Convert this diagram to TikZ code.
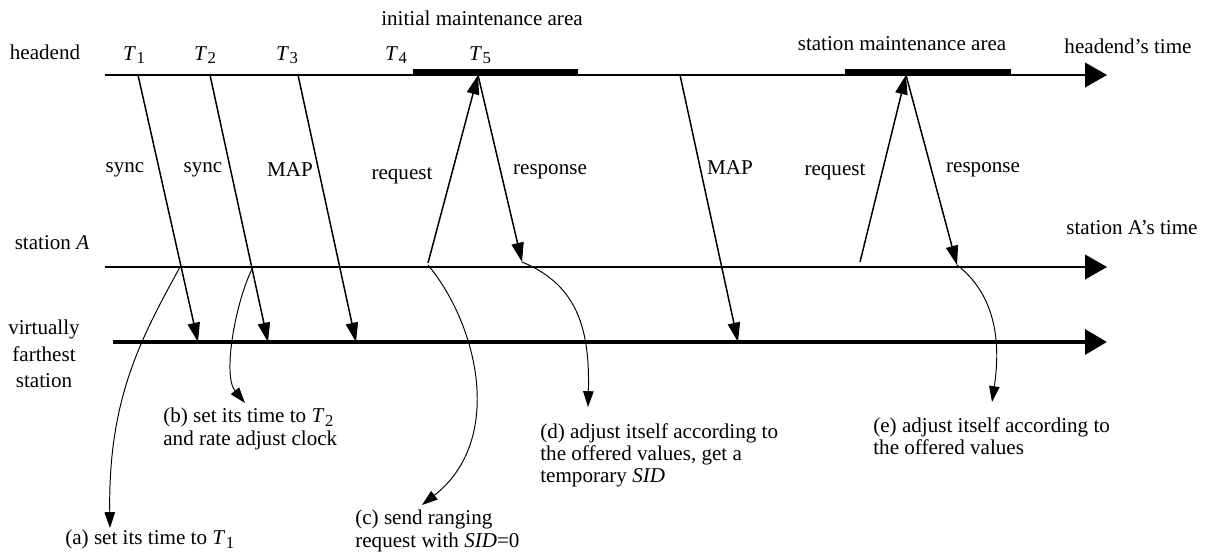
\documentclass[tikz,border=0pt]{standalone}
\usepackage{fontspec}
\setmainfont{Liberation Serif}
\usetikzlibrary{arrows.meta}
\usetikzlibrary{positioning}
\newcommand{\Ti}[1]{\textit{T}\kern0.3pt\raisebox{-0.35ex}{\fontsize{9.5}{9.5}\selectfont #1}}
\tikzset{
  lbl/.style = {inner sep=0pt, font=\fontsize{12}{12.6}\selectfont},
  note/.style = {lbl, align=left, anchor=north west},
  axis/.style = {line width=1.1pt, -{Triangle[length=12.5pt,width=14pt]}},
  vaxis/.style = {line width=2.5pt, -{Triangle[length=12.5pt,width=14pt]}},
  msg/.style = {line width=0.85pt, -{Triangle[length=11pt,width=7pt]}},
  bent/.style = {line width=0.55pt, -{Triangle[length=9pt,width=6pt]}},
  area/.style = {line width=3.4pt},
}
\begin{document}
\begin{tikzpicture}[x=0.02cm,y=-0.02cm]
\useasboundingbox (0,0) rectangle (1206,553);
% time lines
\coordinate (hs) at (105,75);  \coordinate (he) at (1107,75);
\coordinate (as) at (105,267); \coordinate (ae) at (1107,267);
\coordinate (vs) at (113,342); \coordinate (ve) at (1107,342);
\draw[axis] (hs) -- (he);
\draw[axis] (as) -- (ae);
\draw[vaxis] (vs) -- (ve);
% maintenance areas
\coordinate (ia0) at (413,72); \coordinate (ia1) at (578,72);
\coordinate (sa0) at (845,72); \coordinate (sa1) at (1011,72);
\draw[area] (ia0) -- (ia1);
\draw[area] (sa0) -- (sa1);
% line labels
\node[lbl] (headend) at (45,52) {headend};
\node[lbl] (stationA) at (52,243) {station \textit{A}};
\node[lbl, align=center, font=\fontsize{12}{15}\selectfont] (farthest) at (44,354) {virtually\\farthest\\station};
\node[lbl] (htime) at (1128,46) {headend's time};
\node[lbl] (atime) at (1132,228) {station A’s time};
\node[lbl] (initarea) at (482,18) {initial maintenance area};
\node[lbl] (statarea) at (902,44) {station maintenance area};
\node[lbl] (t1) at (134,55) {\Ti{1}};
\node[lbl] (t2) at (205,55) {\Ti{2}};
\node[lbl] (t3) at (287,55) {\Ti{3}};
\node[lbl] (t4) at (396,55) {\Ti{4}};
\node[lbl] (t5) at (480,55) {\Ti{5}};
% messages
\coordinate (s1a) at (138,75);  \coordinate (s1b) at (198,342);
\coordinate (s2a) at (210,75);  \coordinate (s2b) at (268,342);
\coordinate (m1a) at (298,75);  \coordinate (m1b) at (356,342);
\coordinate (r1a) at (428,263); \coordinate (r1b) at (478,75);
\coordinate (p1a) at (478,75);  \coordinate (p1b) at (522,262);
\coordinate (m2a) at (680,75);  \coordinate (m2b) at (738,342);
\coordinate (r2a) at (860,262); \coordinate (r2b) at (906,75);
\coordinate (p2a) at (906,75);  \coordinate (p2b) at (957,265);
\draw[msg] (s1a) -- (s1b);
\draw[msg] (s2a) -- (s2b);
\draw[msg] (m1a) -- (m1b);
\draw[msg] (r1a) -- (r1b);
\draw[msg] (p1a) -- (p1b);
\draw[msg] (m2a) -- (m2b);
\draw[msg] (r2a) -- (r2b);
\draw[msg] (p2a) -- (p2b);
\node[lbl] (sync1) at (125,170) {sync};
\node[lbl] (sync2) at (203,170) {sync};
\node[lbl] (map1) at (290,170) {MAP};
\node[lbl] (req1) at (402,176) {request};
\node[lbl] (resp1) at (550,172) {response};
\node[lbl] (map2) at (730,168) {MAP};
\node[lbl] (req2) at (835,172) {request};
\node[lbl] (resp2) at (983,170) {response};
% station actions
\coordinate (a0) at (180,267); \coordinate (a1) at (110,528);
\coordinate (b0) at (253,267); \coordinate (b1) at (245,403);
\coordinate (c0) at (428,265); \coordinate (c1) at (422,505);
\coordinate (d0) at (522,262); \coordinate (d1) at (588,407);
\coordinate (e0) at (957,265); \coordinate (e1) at (992,402);
\draw[bent] (a0) .. controls (140,340) and (108,400) .. (a1);
\draw[bent] (b0) .. controls (236,300) and (222,375) .. (b1);
\draw[bent] (c0) .. controls (478,325) and (505,440) .. (c1);
\draw[bent] (d0) .. controls (578,285) and (590,330) .. (d1);
\draw[bent] (e0) .. controls (992,292) and (1002,335) .. (e1);
\node[note] (na) at (65,530) {(a) set its time to \Ti{1}};
\node[note] (nb) at (163,408) {(b) set its time to \Ti{2}\\and rate adjust clock};
\node[note] (nc) at (355,510) {(c) send ranging\\request with \textit{SID}=0};
\node[note] (nd) at (540,423) {(d) adjust itself according to\\the offered values, get a\\temporary \textit{SID}};
\node[note] (ne) at (873,417) {(e) adjust itself according to\\the offered values};
\end{tikzpicture}
\end{document}
